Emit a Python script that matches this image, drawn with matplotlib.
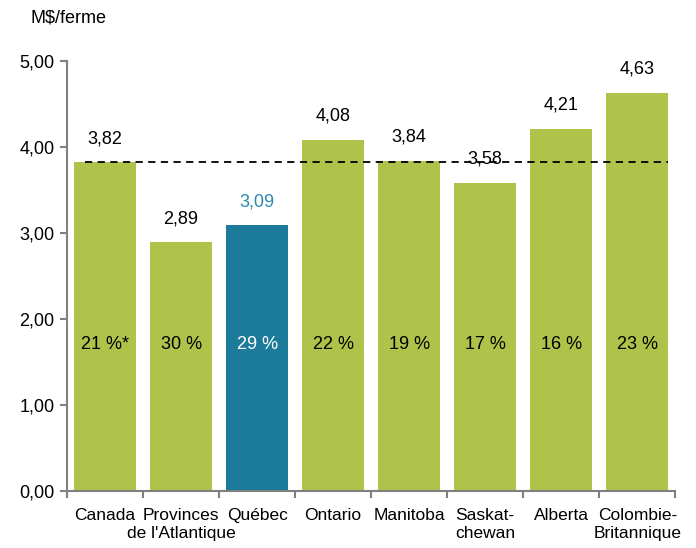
import matplotlib
matplotlib.use("Agg")
import matplotlib.pyplot as plt

# data
regions = ["Canada", "Provinces\nde l'Atlantique", "Québec", "Ontario", "Manitoba",
           "Saskat-\nchewan", "Alberta", "Colombie-\nBritannique"]
values = [3.82, 2.89, 3.09, 4.08, 3.84, 3.58, 4.21, 4.63]
shares = ["21 %*", "30 %", "29 %", "22 %", "19 %", "17 %", "16 %", "23 %"]
canada_ref = 3.82
yticks = [0, 1, 2, 3, 4, 5]

GREEN = "#afc24a"
BLUE = "#1c7b9a"
plt.rcParams["font.family"] = ["Liberation Sans", "DejaVu Sans"]

fig = plt.figure(figsize=(6.96, 5.48), dpi=100)
ax = fig.add_axes([0.0963, 0.104, 0.874, 0.785])

x = list(range(len(regions)))
colors = [BLUE if r == "Québec" else GREEN for r in regions]
ax.bar(x, values, width=0.82, color=colors, zorder=2)

ax.hlines(canada_ref, -0.26, 7.41, colors="black", linestyles=(0, (4, 3)), linewidth=1.3, zorder=3)

for i, (v, s) in enumerate(zip(values, shares)):
    is_qc = regions[i] == "Québec"
    ax.annotate(f"{v:.2f}".replace(".", ","), (i, v), xytext=(0, 17), textcoords="offset points",
                ha="center", va="center", fontsize=13, color="#2a8bab" if is_qc else "black")
    ax.text(i, 1.7, s, ha="center", va="center", fontsize=13,
            color="white" if is_qc else "black", zorder=4)

ax.set_xlim(-0.5, 7.5)
ax.set_ylim(0, 5)
ax.set_yticks(yticks)
ax.set_yticklabels([f"{t:.2f}".replace(".", ",") for t in yticks], fontsize=13)

ax.set_xticks([i - 0.5 for i in range(len(regions) + 1)])
ax.set_xticklabels([])
ax.set_xticks(x, minor=True)
ax.set_xticklabels(regions, minor=True, fontsize=12.5, linespacing=1.3)
ax.tick_params(axis="x", which="minor", length=0, pad=12)
ax.tick_params(axis="x", which="major", length=5, color="#808080", width=1.5)
ax.tick_params(axis="y", length=5, color="#808080", width=1.5, pad=4)

for side in ["top", "right"]:
    ax.spines[side].set_visible(False)
for side in ["left", "bottom"]:
    ax.spines[side].set_color("#808080")
    ax.spines[side].set_linewidth(1.5)

fig.text(30 / 696, 1 - 18 / 548, "M$/ferme", ha="left", va="center", fontsize=13)

fig.savefig("out.png", dpi=100)
plt.close(fig)
